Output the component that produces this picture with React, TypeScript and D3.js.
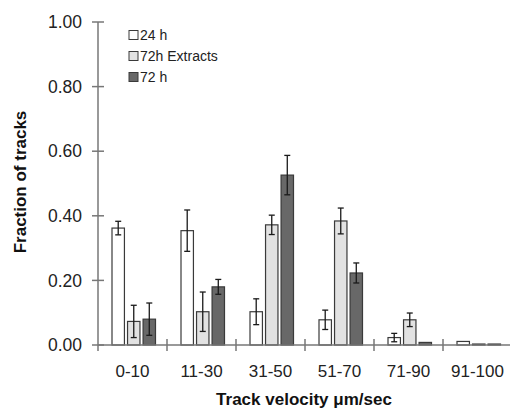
import React from 'react';
import * as d3 from 'd3';

const categories = ['0-10', '11-30', '31-50', '51-70', '71-90', '91-100'];
const seriesNames = ['24 h', '72h Extracts', '72 h'];
const values24h = [0.362, 0.354, 0.103, 0.078, 0.023, 0.011];
const errors24h = [0.021, 0.064, 0.04, 0.03, 0.013, 0];
const valuesExtracts = [0.073, 0.103, 0.372, 0.384, 0.078, 0.003];
const errorsExtracts = [0.05, 0.061, 0.03, 0.04, 0.021, 0];
const values72h = [0.08, 0.18, 0.526, 0.223, 0.008, 0.003];
const errors72h = [0.05, 0.023, 0.061, 0.031, 0, 0];
const yTicks = [0, 0.2, 0.4, 0.6, 0.8, 1.0];

const fills = ['#ffffff', '#e2e2e2', '#686868'];
const font = '"Liberation Sans", Arial, sans-serif';

export default function App() {
  const width = 510,
    height = 416;
  const x0 = 98,
    yZero = 345;

  const x = d3.scaleBand().domain(categories).range([x0, 512]);
  const inner = d3
    .scaleBand()
    .domain(seriesNames)
    .range([14, 57.5])
    .paddingInner(0.2);
  const y = d3.scaleLinear().domain([0, 1]).range([yZero, 22]);

  const series = [
    { name: seriesNames[0], values: values24h, errors: errors24h },
    { name: seriesNames[1], values: valuesExtracts, errors: errorsExtracts },
    { name: seriesNames[2], values: values72h, errors: errors72h },
  ];

  return (
    <svg
      width={width}
      height={height}
      style={{ position: 'absolute', left: 0, top: 0, background: '#fff' }}
      fontFamily={font}
    >
      {/* bars */}
      {series.map((s, si) =>
        categories.map((c, ci) => {
          const bx = x(c) + inner(s.name);
          const bw = inner.bandwidth();
          const v = s.values[ci];
          const e = s.errors[ci];
          const cx = bx + bw / 2;
          return (
            <g key={s.name + c}>
              <rect
                x={bx}
                y={y(v)}
                width={bw}
                height={yZero - y(v)}
                fill={fills[si]}
                stroke="#3a3a3a"
                strokeWidth={1.2}
              />
              {e > 0 && (
                <g stroke="#1a1a1a" strokeWidth={1.3}>
                  <line x1={cx} x2={cx} y1={y(v + e)} y2={y(v - e)} />
                  <line x1={cx - 3} x2={cx + 3} y1={y(v + e)} y2={y(v + e)} />
                  <line x1={cx - 3} x2={cx + 3} y1={y(v - e)} y2={y(v - e)} />
                </g>
              )}
            </g>
          );
        })
      )}

      {/* y axis */}
      <g stroke="#777" strokeWidth={1.5}>
        <line x1={x0} x2={x0} y1={y(1)} y2={yZero + 6} />
        {yTicks.map(t => (
          <line key={t} x1={x0 - 6} x2={x0 + 6} y1={y(t)} y2={y(t)} />
        ))}
      </g>
      {yTicks.map(t => (
        <text
          key={t}
          x={82}
          y={y(t)}
          dy="0.35em"
          textAnchor="end"
          fontSize={17.5}
          fill="#222"
        >
          {d3.format('.2f')(t)}
        </text>
      ))}

      {/* x axis */}
      <g stroke="#777" strokeWidth={1.5}>
        <line x1={x0} x2={width} y1={yZero} y2={yZero} />
        {categories.slice(1).map(c => (
          <line key={c} x1={x(c)} x2={x(c)} y1={yZero - 6} y2={yZero + 6} />
        ))}
      </g>
      {categories.map(c => (
        <text
          key={c}
          x={x(c) + x.bandwidth() / 2}
          y={377}
          textAnchor="middle"
          fontSize={17}
          fill="#222"
        >
          {c}
        </text>
      ))}

      {/* titles */}
      <text
        transform="translate(26,182) rotate(-90)"
        textAnchor="middle"
        fontSize={17}
        fontWeight="bold"
        fill="#111"
      >
        Fraction of tracks
      </text>
      <text x={304} y={405} textAnchor="middle" fontSize={17} fontWeight="bold" fill="#111">
        Track velocity μm/sec
      </text>

      {/* legend */}
      {seriesNames.map((n, i) => (
        <g key={n} transform={`translate(129,${35 + i * 21})`}>
          <rect x={0} y={-4.5} width={9} height={9} fill={fills[i]} stroke="#3a3a3a" strokeWidth={1} />
          <text x={11} y={0} dy="0.36em" fontSize={14} fill="#222">
            {n}
          </text>
        </g>
      ))}
    </svg>
  );
}
